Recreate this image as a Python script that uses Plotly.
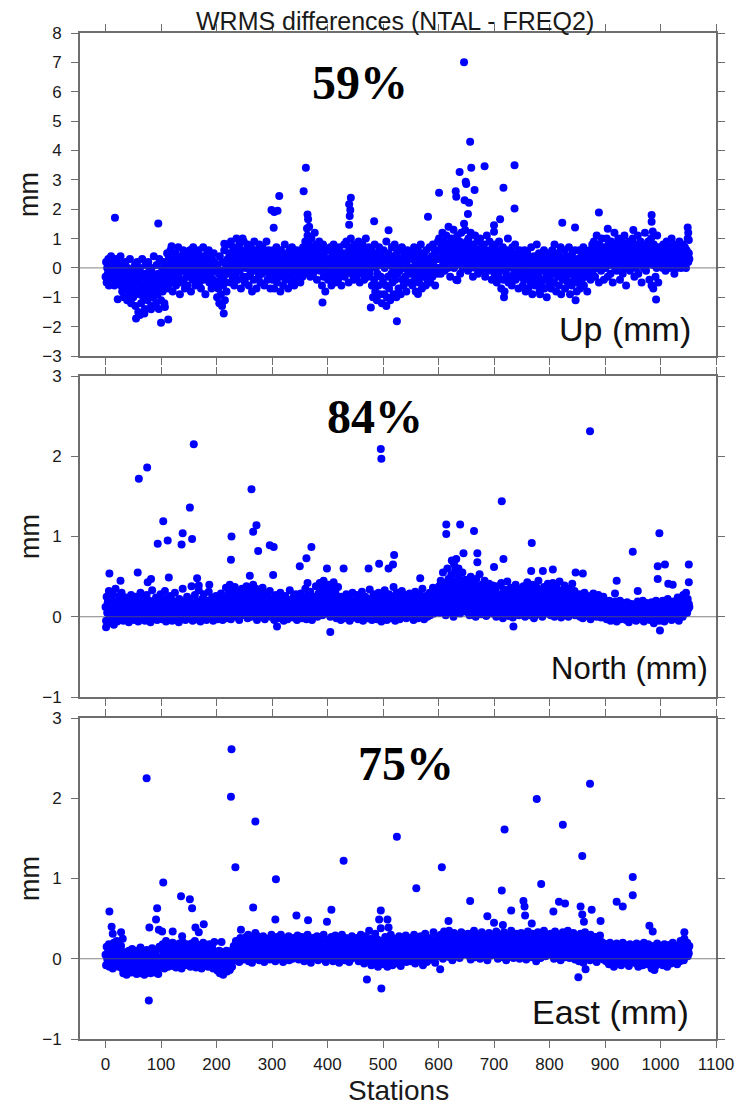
import plotly.graph_objects as go

# ---------------- data ----------------
station_ticks = list(range(0, 1200, 100))
y_ticks_up = list(range(-3, 9))
y_ticks_ne = list(range(-1, 4))

# Up component: one value per station (0..1052), dense cloud
up_band = [
    -0.3, 0.2, -0.5, 0.0, -0.2, 0.3, -0.6, -0.1, 0.1, -0.4, 0.4, -0.2, -0.5, 0.0, 0.2, -0.3, -0.6, 0.1, -0.1, 0.3, -0.4, -0.2, 0.0, -0.5, 0.2, -0.1, -0.3, 0.4, -0.6, 0.0, -0.8, -0.2, 0.1, -1.0, -0.5, -0.3, 0.2, -0.7, -0.4, -1.1, 0.0, -0.6, -0.2, -0.9, 0.3, -0.5, -1.2, -0.1, -0.7, -0.3,
    -1.0, -0.2, -0.6, 0.1, -1.3, -0.4, -0.8, 0.2, -0.1, -1.5, -0.5, -0.9, 0.0, -0.3, -1.2, -0.7, 0.3, -0.4, -1.0, -0.2, -0.6, -1.4, 0.1, -0.8, -0.3, -0.5, -1.1, 0.2, -0.7, -0.1, -0.9, -0.4, -1.3, 0.0, -0.6, -0.2, -1.0, 0.4, -0.5, -0.8, -0.3, -1.2, 0.1, -0.6, -0.9, -0.2, -1.4, 0.3, -0.4, -0.7,
    -1.1, -0.3, 0.0, -0.8, -0.5, 0.2, -1.2, -0.2, -0.6, 0.1, -0.4, 0.5, -0.1, -0.7, 0.3, 0.0, -0.3, 0.6, -0.5, 0.2, -0.2, -0.8, 0.4, 0.1, -0.4, 0.0, 0.5, -0.6, -0.1, 0.3, -0.3, 0.7, -0.2, 0.1, -0.9, 0.4, 0.0, -0.5, 0.2, -0.1, 0.6, -0.4, 0.3, -0.7, 0.0, 0.5, -0.2, 0.1, -0.6, 0.4,
    -0.3, 0.2, 0.6, -0.1, -0.8, 0.3, 0.0, -0.4, 0.7, 0.1, -0.2, 0.4, -0.6, 0.0, 0.5, -0.3, 0.2, -0.1, 0.6, -0.5, 0.3, 0.0, -0.7, 0.4, -0.2, 0.1, 0.7, -0.4, 0.0, 0.3, -0.9, 0.2, -0.1, 0.5, -0.3, 0.1, 0.6, -0.5, 0.0, 0.4, -0.2, -0.7, 0.3, 0.1, -0.4, 0.5, -0.1, 0.2, -0.6, 0.0,
    -0.5, -1.0, 0.1, -0.7, -0.2, -1.2, 0.4, -0.4, -0.9, -0.1, -1.3, 0.2, -0.6, -0.3, 0.6, -1.1, -0.5, 0.0, -0.8, -0.2, 0.3, 0.8, -0.1, 0.5, 0.2, -0.5, 0.9, 0.0, 0.4, -0.3, 0.7, 0.1, -0.6, 0.6, 0.3, -0.2, 1.0, 0.2, -0.4, 0.5, 0.0, 0.8, -0.1, 0.3, -0.7, 0.6, 0.1, 0.4, -0.3, 0.9,
    0.2, -0.5, 0.6, 0.0, 0.4, -0.3, 0.8, 0.1, -0.6, 0.5, 0.3, -0.2, 0.7, 0.0, -0.8, 0.4, 0.2, -0.4, 0.9, 0.1, -0.1, 0.6, -0.7, 0.3, 0.0, 0.5, -0.3, 0.8, 0.2, -0.5, 0.4, 0.1, -0.2, 0.7, 0.0, 0.3, -0.6, 0.5, 0.2, -0.1, 0.9, 0.4, -0.4, 0.1, 0.6, -0.2, 0.3, -0.7, 0.0, 0.5,
    0.2, -0.4, 0.6, 0.0, -0.7, 0.4, 0.1, -0.2, 0.7, -0.5, 0.3, 0.0, 0.5, -0.3, 0.2, -0.8, 0.6, 0.1, -0.1, 0.4, -0.6, 0.3, 0.0, 0.8, -0.4, 0.2, -0.2, 0.5, 0.1, -0.7, 0.4, 0.0, 0.6, -0.3, 0.2, -0.5, 0.7, 0.1, -0.1, 0.3, -0.6, 0.5, 0.0, 0.2, -0.4, 0.6, -0.2, 0.1, 0.4, -0.1,
    0.3, -0.5, 0.5, 0.0, 0.2, -0.3, 0.7, 0.1, -0.2, 0.4, 0.9, 0.2, 0.6, -0.1, 1.1, 0.3, 0.0, 0.8, 0.4, -0.3, 0.6, 1.0, 0.1, 0.5, -0.2, 0.7, 0.3, 1.2, 0.0, 0.4, 0.8, -0.4, 0.2, 0.6, 0.1, 0.9, -0.1, 0.5, 0.3, 0.7, -0.6, 0.2, 0.8, -0.3, 0.4, 0.0, -0.8, 0.6, 0.1, -0.2,
    0.3, -0.4, 0.6, 0.0, -0.2, 0.7, 0.1, -0.6, 0.4, 0.2, -0.3, 0.8, 0.0, 0.5, -0.5, 0.2, -0.1, 0.6, 0.3, -0.4, 0.1, 0.7, -0.2, 0.4, 0.0, -0.6, 0.5, 0.2, -0.1, 0.3, 0.8, -0.3, 0.5, 0.1, 0.9, -0.1, 0.4, 0.2, -0.5, 0.7, 0.0, 0.3, 1.0, -0.2, 0.6, 0.1, 0.4, -0.4, 0.8, 0.2,
    0.0, 0.5, -0.3, 0.7, 0.2, -0.1, 0.9, 0.3, -0.5, 0.6, 0.1, 0.4, -0.2, 0.8, 0.0, 0.3, -0.4, 0.6, 0.2, 1.0, -0.1, 0.5, 0.1, -0.3, 0.7, 0.2, -0.2, 0.4, 0.0, 0.6, -0.6, 0.3, -1.0, 0.1, -0.4, 0.8, -0.8, 0.0, 0.5, -1.1, -0.2, 0.3, -0.6, 0.7, -0.9, 0.1, -0.3, 0.4, -1.2, 0.2,
    -0.5, 0.6, -0.9, 0.0, 0.3, -0.6, 0.9, -1.0, 0.2, -0.3, 0.5, -0.7, 0.1, -1.1, 0.4, -0.2, 0.7, -0.5, 0.0, -0.9, 0.3, 0.8, -0.4, 0.1, -1.0, 0.5, -0.2, 0.2, -0.7, 0.6, -0.1, 0.3, -0.9, 0.0, 0.7, -0.4, 0.2, -0.6, 0.4, 0.0, -0.3, 0.5, -0.8, 0.1, 0.6, -0.2, 0.3, -0.5, 0.0, 0.4,
    -0.2, 0.5, 0.0, -0.6, 0.3, -0.1, 0.7, -0.4, 0.2, -0.8, 0.4, 0.0, -0.3, 0.6, 0.1, -0.5, 0.3, -0.2, 0.8, 0.0, -0.7, 0.4, 0.1, -0.3, 0.5, -0.1, 0.2, -0.6, 0.6, 0.0, -0.4, 0.3, 0.1, -0.2, 0.7, -0.5, 0.2, 0.0, 0.4, -0.3, 0.8, 0.1, -0.1, 0.5, -0.6, 0.3, 0.0, 0.6, -0.2, 0.9,
    0.3, 1.0, 0.0, 0.6, -0.2, 0.8, 0.4, 1.2, 0.1, 0.5, 0.9, -0.1, 0.7, 0.3, 1.1, 0.2, 0.6, 0.0, 1.4, 0.4, 0.8, -0.3, 0.5, 1.0, 0.2, 0.7, 0.3, 1.3, 0.0, 0.6, 0.9, 0.1, -0.4, 0.5, 1.1, 0.3, 0.7, 0.2, 0.9, -0.2, 0.4, 1.2, 0.6, 0.0, 0.8, 0.3, 1.5, 0.1, 0.5, 0.7,
    0.2, 0.9, 0.4, -0.1, 1.0, 0.3, 0.6, 0.0, 1.2, 0.5, 0.1, 0.8, -0.3, 0.4, 0.7, 0.2, 1.1, 0.0, 0.5, 0.3, 0.9, -0.2, 0.6, 0.1, 0.4, 1.0, 0.2, -0.1, 0.7, 0.3, 0.5, 0.0, 0.8, 0.4, -0.3, 0.6, 0.2, 1.1, 0.1, 0.5, -0.1, 0.3, 0.9, 0.0, 0.6, 0.2, -0.4, 0.7, 0.3, 0.1,
    0.4, -0.2, 0.8, 0.0, 0.3, -0.5, 0.6, 0.1, -0.3, 0.9, 0.2, -0.1, 0.5, -0.7, 0.3, 0.0, 0.7, -0.4, 0.2, -0.8, 0.4, 0.1, -0.2, 0.6, 0.0, 1.0, -0.5, 0.3, 0.1, -0.3, 0.5, 0.2, -0.6, 0.7, 0.0, 0.4, -0.2, 0.1, 0.8, -0.4, 0.3, -0.1, 0.5, 0.0, -0.7, 0.2, 0.6, -0.3, 0.1, 0.4,
    -0.2, 0.3, -0.6, 0.1, -0.4, 0.6, -0.1, -0.8, 0.2, -0.3, 0.5, 0.0, -0.7, 0.3, -0.2, 0.1, -0.5, 0.7, -0.1, -0.9, 0.2, -0.4, 0.4, 0.0, -0.6, 0.3, -0.2, 0.8, -0.5, 0.1, -0.3, 0.5, -0.8, 0.0, 0.2, -0.6, 0.4, -0.1, 0.1, -0.4, 0.6, -0.7, 0.0, 0.3, -0.3, -1.0, 0.2, -0.2, 0.5, -0.5,
    0.1, -0.4, 0.4, -0.7, 0.0, 0.6, -0.2, 0.3, -0.5, 0.8, -0.1, 0.2, -0.8, 0.0, 0.5, -0.3, 0.1, -0.6, 0.4, -0.2, 0.7, -0.9, 0.0, 0.3, -0.4, 0.2, -0.1, 0.6, -0.7, 0.1, -0.3, 0.4, 0.0, -0.5, 0.2, 0.7, -0.2, -0.9, 0.3, 0.0, -0.6, 0.5, -0.1, 0.2, -0.4, 0.1, 0.6, -0.3, 0.0, -0.8,
    0.3, -0.5, 0.1, -0.2, 0.6, -0.7, 0.0, 0.4, -0.4, 0.2, -0.1, 0.7, -0.6, 0.1, 0.3, -0.3, 0.5, 0.0, -0.8, 0.2, 0.4, -0.2, 0.6, 0.1, -0.4, 0.3, 0.0, 0.8, -0.1, 0.5, 0.9, 0.2, -0.3, 0.6, 0.4, 1.1, 0.0, 0.7, 0.3, -0.5, 0.8, 0.2, 0.5, -0.1, 1.0, 0.4, 0.1, 0.6, -0.4, 0.3,
    0.7, 0.0, 0.5, 1.0, 0.2, -0.3, 0.8, 0.4, 0.1, 0.6, -0.2, 0.9, 0.3, 0.5, -0.5, 0.7, 0.2, 1.2, 0.0, 0.4, 0.8, -0.1, 0.6, 0.3, 1.0, 0.1, 0.5, -0.4, 0.7, 0.2, 0.9, 0.4, -0.2, 0.6, 0.0, 1.1, 0.3, 0.5, -0.6, 0.8, 0.2, 0.4, 0.0, 0.9, 0.6, -0.1, 0.3, 0.7, 0.1, 0.5,
    1.0, 0.2, 0.6, -0.3, 0.4, 0.8, 0.0, 0.5, 0.2, 1.1, -0.2, 0.7, 0.3, 0.1, 0.9, 0.4, -0.5, 0.6, 0.2, 0.8, 0.0, 0.5, 1.2, 0.3, -0.1, 0.7, 0.1, 0.4, 0.9, 0.2, -0.4, 0.6, 0.3, 1.0, -0.6, 0.5, 0.1, -0.7, 0.8, 0.2, 0.4, -0.3, 0.6, 0.0, 1.1, 0.3, -0.5, 0.7, 0.2, 0.5,
    0.3, 0.7, 0.1, 0.5, 0.0, 0.8, 0.2, 0.4, 0.6, -0.1, 0.3, 0.9, 0.1, 0.5, 0.2, 0.7, 0.0, 0.4, 0.6, 0.2, 1.0, 0.3, 0.1, 0.5, 0.8, -0.2, 0.4, 0.2, 0.6, 0.0, 0.3, 0.7, 0.1, 0.5, 0.9, 0.2, 0.4, 0.0, 0.6, 0.3, 0.8, 0.1, 0.5, 0.2, 0.7, 0.4, 0.0, 0.6, 0.3, 1.0, 0.2, 0.5, 0.3,
]
# Up component: isolated points (station, value)
up_out_x = [17, 95, 22, 55, 62, 70, 82, 100, 113, 107, 119, 213, 214, 247, 299, 304, 310, 313, 303,
            361, 357, 364, 365, 363, 367, 391, 442, 439, 441, 440, 439, 484, 510, 525, 478, 506, 534,
            646, 657, 638, 659, 649, 650, 665, 683, 737, 717, 737, 601, 631, 632, 647, 655, 653, 581,
            648, 711, 700, 700, 889, 984, 984, 986, 823, 846, 951, 905, 1049, 1050, 1051, 718, 783,
            847, 992, 563, 634]
up_out_y = [1.71, 1.51, -1.07, -1.72, -1.6, -1.55, -1.41, -1.87, -1.76, -1.33, 0.74, -1.55, 0.82, 1.0, 1.97, 1.9, 1.95, 2.45, 1.37,
            3.41, 2.61, 1.82, 1.66, 1.34, 1.4, -1.18, 2.39, 2.17, 1.97, 1.77, 1.47, 1.59, 1.28, -1.82, -1.35, -1.3, 0.68,
            7.0, 4.3, 3.27, 3.41, 2.93, 2.86, 2.65, 3.46, 3.5, 2.73, 2.02, 2.56, 2.61, 2.42, 2.3, 2.22, 1.84, 1.74,
            1.29, 1.66, 1.45, 1.23, 1.89, 1.8, 1.57, 1.24, 1.54, 1.38, 1.29, 1.33, 1.38, 1.2, 0.95, -1.0, -0.9,
            -1.1, -1.08, -0.89, -0.42]

# North component
north_band = [
    0.12, -0.05, 0.25, 0.05, 0.18, -0.08, 0.32, 0.08, 0.0, 0.15, 0.22, -0.03, 0.1, 0.28, 0.04, -0.1, 0.17, 0.06, 0.35, 0.0, 0.12, -0.06, 0.2, 0.09, 0.02, 0.26, -0.04, 0.14, 0.07, 0.3, 0.03, 0.11, -0.05, 0.19, 0.06, 0.0, 0.24, 0.08, -0.02, 0.13, 0.04, 0.21, -0.07, 0.1, 0.16, 0.01, 0.27, 0.05, -0.03, 0.12,
    0.07, 0.2, -0.04, 0.11, 0.03, 0.25, 0.0, 0.14, 0.06, -0.06, 0.18, 0.09, 0.02, 0.3, 0.05, -0.02, 0.13, 0.08, 0.22, 0.0, 0.1, -0.05, 0.16, 0.04, 0.27, 0.07, -0.03, 0.12, 0.01, 0.2, 0.09, -0.07, 0.15, 0.05, 0.33, 0.02, 0.11, -0.01, 0.19, 0.06, 0.0, 0.24, 0.08, -0.04, 0.14, 0.03, 0.17, 0.1, -0.02, 0.28,
    0.05, 0.12, -0.03, 0.2, 0.07, 0.0, 0.15, 0.32, 0.04, -0.06, 0.1, 0.23, 0.06, 0.01, 0.17, -0.02, 0.09, 0.26, 0.03, 0.13, -0.05, 0.2, 0.08, 0.0, 0.14, 0.3, 0.05, -0.03, 0.11, 0.18, 0.02, 0.07, -0.07, 0.22, 0.1, 0.04, 0.16, -0.01, 0.12, 0.35, 0.06, 0.0, 0.19, 0.09, -0.04, 0.14, 0.03, 0.25, 0.08, 0.01,
    0.13, -0.02, 0.21, 0.06, 0.1, 0.38, 0.04, -0.05, 0.16, 0.08, 0.0, 0.27, 0.11, 0.03, -0.03, 0.19, 0.07, 0.14, 0.33, 0.02, 0.09, -0.06, 0.17, 0.05, 0.22, 0.0, 0.12, 0.28, -0.02, 0.08, 0.15, 0.04, -0.04, 0.2, 0.1, 0.01, 0.31, 0.06, 0.13, -0.01, 0.18, 0.07, 0.24, 0.03, -0.05, 0.11, 0.16, 0.0, 0.09, 0.26,
    0.05, 0.14, -0.03, 0.21, 0.08, 0.0, 0.17, 0.1, 0.29, 0.02, 0.12, -0.04, 0.19, 0.06, 0.25, 0.03, 0.13, 0.36, 0.07, -0.02, 0.15, 0.28, 0.05, 0.2, 0.4, 0.1, -0.03, 0.18, 0.32, 0.08, 0.24, 0.02, 0.14, 0.37, 0.11, 0.0, 0.22, 0.16, 0.06, 0.3, 0.09, -0.04, 0.19, 0.27, 0.13, 0.04, 0.35, 0.17, 0.07, 0.23,
    0.1, 0.31, 0.02, 0.18, 0.38, 0.12, -0.02, 0.25, 0.08, 0.15, 0.33, 0.05, 0.2, 0.0, 0.28, 0.14, 0.4, 0.09, 0.22, 0.03, 0.17, 0.35, 0.11, -0.04, 0.26, 0.07, 0.19, 0.3, 0.04, 0.13, 0.24, 0.01, 0.16, 0.36, 0.1, 0.06, 0.21, -0.03, 0.14, 0.29, 0.08, 0.18, 0.02, 0.25, 0.12, 0.05, 0.32, 0.09, 0.0, 0.16,
    0.07, 0.22, 0.03, 0.13, -0.04, 0.18, 0.09, 0.27, 0.01, 0.11, 0.05, 0.2, -0.02, 0.15, 0.08, 0.3, 0.04, 0.12, 0.0, 0.24, 0.1, -0.05, 0.17, 0.06, 0.26, 0.02, 0.14, 0.08, -0.03, 0.21, 0.11, 0.04, 0.33, 0.07, 0.16, 0.0, 0.19, 0.09, -0.01, 0.25, 0.05, 0.13, 0.03, 0.28, 0.1, -0.04, 0.15, 0.06, 0.22, 0.01,
    0.12, 0.04, 0.29, 0.08, -0.02, 0.17, 0.1, 0.23, 0.02, 0.14, 0.35, 0.06, -0.03, 0.19, 0.09, 0.27, 0.0, 0.13, 0.05, 0.31, 0.11, 0.18, -0.04, 0.21, 0.07, 0.15, 0.25, 0.03, 0.12, 0.38, 0.08, 0.2, 0.0, 0.16, 0.29, 0.1, 0.42, 0.05, 0.23, 0.14, 0.34, 0.02, 0.19, 0.45, 0.11, 0.26, 0.07, 0.38, 0.16, 0.3,
    0.04, 0.22, 0.4, 0.12, 0.28, 0.0, 0.18, 0.35, 0.09, 0.24, 0.14, 0.43, 0.06, 0.2, 0.31, 0.1, -0.02, 0.26, 0.15, 0.37, 0.08, 0.03, 0.19, 0.11, -0.04, 0.25, 0.06, 0.14, 0.01, 0.21, 0.09, -0.02, 0.17, 0.05, 0.28, 0.12, 0.0, 0.15, 0.07, 0.23, -0.05, 0.1, 0.19, 0.03, 0.13, 0.3, 0.06, -0.01, 0.16, 0.08,
    0.2, 0.02, 0.12, 0.27, 0.05, -0.03, 0.17, 0.09, 0.23, 0.0, 0.14, 0.06, 0.31, 0.1, -0.05, 0.19, 0.04, 0.13, 0.25, 0.07, 0.0, 0.16, 0.11, -0.02, 0.22, 0.08, 0.34, 0.03, 0.15, 0.09, -0.04, 0.2, 0.12, 0.28, 0.05, 0.18, 0.01, 0.24, 0.1, -0.03, 0.14, 0.06, 0.3, 0.17, 0.02, 0.21, 0.08, -0.06, 0.13, 0.26,
    0.04, 0.15, 0.09, 0.33, 0.0, 0.18, 0.11, -0.04, 0.23, 0.06, 0.14, 0.28, 0.02, 0.19, 0.1, -0.02, 0.25, 0.07, 0.13, 0.37, 0.05, 0.21, -0.05, 0.16, 0.09, 0.3, 0.01, 0.12, 0.2, 0.06, -0.03, 0.24, 0.14, 0.08, 0.32, 0.03, 0.17, 0.0, 0.11, 0.27, 0.05, 0.19, -0.02, 0.13, 0.22, 0.07, 0.15, 0.02, 0.29, 0.1,
    0.0, 0.18, 0.06, 0.25, 0.12, -0.04, 0.2, 0.08, 0.31, 0.03, 0.15, 0.1, 0.23, -0.02, 0.13, 0.06, 0.28, 0.17, 0.01, 0.21, 0.09, 0.35, 0.04, 0.14, -0.03, 0.19, 0.11, 0.26, 0.05, 0.16, 0.0, 0.22, 0.12, 0.08, 0.3, 0.02, 0.18, 0.24, 0.07, 0.14, 0.36, 0.1, 0.04, 0.27, 0.15, 0.2, 0.06, 0.33, 0.12, 0.22,
    0.15, 0.38, 0.05, 0.28, 0.45, 0.12, 0.33, 0.2, 0.55, 0.08, 0.3, 0.42, 0.18, 0.02, 0.36, 0.25, 0.6, 0.1, 0.47, 0.22, 0.32, 0.06, 0.4, 0.52, 0.15, 0.27, 0.35, 0.0, 0.44, 0.2, 0.58, 0.11, 0.3, 0.38, 0.07, 0.24, 0.5, 0.16, 0.33, 0.04, 0.42, 0.26, 0.13, 0.55, 0.21, 0.36, 0.09, 0.29, 0.46, 0.18,
    0.32, 0.06, 0.25, 0.44, 0.14, 0.37, 0.02, 0.2, 0.5, 0.28, 0.1, 0.35, 0.17, 0.42, 0.05, 0.23, 0.31, 0.0, 0.47, 0.15, 0.26, 0.38, 0.08, 0.21, 0.53, 0.12, 0.3, 0.03, 0.4, 0.19, 0.27, 0.09, 0.34, 0.45, 0.13, 0.22, 0.01, 0.36, 0.18, 0.29, 0.07, 0.41, 0.24, 0.11, 0.33, 0.16, 0.04, 0.27, 0.39, 0.1,
    0.2, 0.05, 0.31, 0.12, 0.0, 0.24, 0.38, 0.08, 0.17, 0.28, 0.03, 0.21, 0.13, 0.42, 0.07, 0.26, -0.02, 0.18, 0.34, 0.1, 0.22, 0.04, 0.3, 0.15, 0.44, 0.09, 0.19, 0.01, 0.27, 0.12, 0.36, 0.06, 0.23, 0.16, -0.01, 0.32, 0.11, 0.25, 0.03, 0.4, 0.14, 0.2, 0.07, 0.29, 0.17, 0.02, 0.35, 0.1, 0.24, 0.13,
    0.05, 0.28, 0.16, 0.38, 0.09, 0.22, 0.0, 0.31, 0.13, 0.19, 0.43, 0.06, 0.25, 0.11, 0.34, 0.02, 0.18, 0.27, 0.08, 0.4, 0.14, 0.21, -0.02, 0.3, 0.12, 0.23, 0.05, 0.36, 0.17, 0.1, 0.45, 0.03, 0.26, 0.15, 0.32, 0.07, 0.2, 0.0, 0.29, 0.11, 0.37, 0.18, 0.04, 0.24, 0.13, 0.33, 0.08, 0.41, 0.16, 0.22,
    0.1, 0.34, 0.02, 0.19, 0.27, 0.06, 0.42, 0.14, 0.23, 0.0, 0.3, 0.12, 0.37, 0.08, 0.2, 0.04, 0.28, 0.16, 0.44, 0.1, 0.25, -0.01, 0.18, 0.33, 0.07, 0.22, 0.13, 0.39, 0.03, 0.26, 0.15, 0.31, 0.09, 0.2, 0.0, 0.35, 0.12, 0.24, 0.06, 0.29, 0.17, 0.41, 0.05, 0.21, 0.11, 0.32, 0.02, 0.18, 0.26, 0.08,
    0.15, 0.04, 0.22, 0.1, 0.28, 0.0, 0.17, 0.07, 0.25, 0.12, -0.02, 0.19, 0.09, 0.3, 0.03, 0.14, 0.21, 0.06, 0.11, 0.26, 0.01, 0.16, 0.08, 0.23, -0.03, 0.13, 0.05, 0.2, 0.1, 0.29, 0.02, 0.15, 0.07, 0.24, 0.12, 0.0, 0.18, 0.09, 0.27, 0.04, 0.14, 0.06, 0.21, -0.01, 0.11, 0.17, 0.03, 0.25, 0.08, 0.13,
    0.02, 0.14, 0.06, -0.03, 0.1, 0.18, 0.0, 0.08, 0.2, 0.04, -0.05, 0.12, 0.07, 0.16, 0.01, 0.09, -0.02, 0.13, 0.05, 0.19, 0.03, -0.06, 0.11, 0.06, 0.15, 0.0, 0.08, 0.2, -0.03, 0.1, 0.04, 0.14, 0.07, -0.01, 0.17, 0.02, 0.09, 0.12, -0.04, 0.06, 0.18, 0.03, 0.1, -0.07, 0.05, 0.13, 0.0, 0.08, 0.16, 0.04,
    0.11, -0.02, 0.07, 0.15, 0.03, 0.09, -0.05, 0.13, 0.06, 0.19, 0.0, 0.1, 0.04, 0.16, -0.03, 0.08, 0.12, 0.02, 0.2, 0.05, -0.06, 0.14, 0.07, 0.01, 0.11, 0.17, -0.02, 0.06, 0.09, 0.03, 0.15, -0.04, 0.1, 0.05, 0.18, 0.0, 0.08, 0.13, -0.08, 0.04, 0.11, 0.07, 0.2, -0.01, 0.06, 0.14, 0.02, 0.09, -0.05, 0.12,
    0.05, 0.15, -0.03, 0.09, 0.2, 0.02, 0.12, -0.06, 0.07, 0.17, 0.0, 0.1, 0.04, 0.22, -0.02, 0.08, 0.14, 0.01, 0.18, 0.06, -0.04, 0.11, 0.05, 0.19, 0.0, 0.13, 0.08, -0.01, 0.16, 0.03, 0.1, 0.24, 0.06, -0.05, 0.12, 0.07, 0.2, 0.02, 0.15, 0.09, 0.0, 0.27, 0.11, 0.04, 0.18, 0.08, 0.3, 0.13, 0.05, 0.22, 0.1, 0.16, 0.12,
]
north_out_x = [159, 60, 75, 496, 497, 263, 152, 104, 94, 112, 139, 137, 156, 227, 226, 266, 272, 275, 296, 303,
               350, 362, 371, 399, 429, 474, 493, 510, 520, 518, 7, 27, 58, 1, 405, 309,
               165, 114, 82, 76, 187, 168, 260, 302, 364,
               873, 714, 614, 614, 639, 664, 768, 950, 998, 645, 670, 670, 700, 717, 624, 628, 632, 636,
               567, 995, 1008, 1051, 995, 1014, 1022, 1051, 921, 918, 959, 847, 860, 806, 788, 767, 735, 999]
north_out_y = [2.15, 1.72, 1.86, 2.09, 1.97, 1.59, 1.36, 1.19, 0.91, 0.95, 1.04, 0.9, 0.97, 1.0, 0.71, 1.06, 1.14, 0.82, 0.89, 0.87,
               0.63, 0.73, 0.87, 0.6, 0.6, 0.6, 0.66, 0.6, 0.77, 0.65, 0.54, 0.45, 0.55, -0.13, -0.19, -0.12,
               0.48, 0.49, 0.47, 0.43, 0.4, 0.39, 0.51, 0.52, 0.42,
               2.31, 1.44, 1.15, 1.03, 1.15, 1.07, 0.92, 0.81, 1.04, 0.79, 0.79, 0.68, 0.62, 0.72, 0.7, 0.65, 0.72, 0.6,
               0.48, 0.63, 0.65, 0.65, 0.47, 0.41, 0.4, 0.43, 0.45, 0.29, 0.32, 0.55, 0.54, 0.59, 0.57, 0.57, -0.12, -0.17]

# East component
east_band = [
    0.05, -0.08, 0.15, 0.0, -0.04, 0.1, 0.18, -0.1, 0.03, 0.08, -0.06, 0.12, 0.01, -0.12, 0.07, 0.2, -0.02, 0.04, 0.11, -0.07, 0.0, 0.14, -0.05, 0.06, -0.1, 0.09, 0.02, -0.03, 0.16, -0.08, -0.12, 0.03, -0.18, -0.06, 0.08, -0.14, 0.0, -0.09, -0.2, 0.05, -0.03, -0.15, 0.1, -0.07, -0.11, 0.02, -0.17, -0.04, 0.12, -0.1,
    -0.02, -0.16, 0.06, -0.09, -0.12, 0.0, -0.19, 0.1, -0.05, -0.13, 0.03, -0.08, -0.18, 0.14, -0.01, -0.11, -0.06, 0.07, -0.15, -0.03, -0.2, 0.04, -0.09, -0.12, 0.11, -0.07, 0.0, -0.16, -0.04, 0.08, -0.1, -0.18, 0.02, -0.06, 0.13, -0.14, -0.02, -0.08, 0.05, -0.17, -0.11, 0.09, -0.04, -0.13, 0.01, -0.19, -0.07, 0.15, -0.1, -0.05,
    0.02, -0.08, 0.12, 0.18, -0.03, 0.06, -0.12, 0.1, 0.0, 0.22, -0.05, 0.04, 0.14, -0.1, 0.08, 0.01, 0.17, -0.06, 0.11, -0.02, 0.05, 0.2, -0.09, 0.03, 0.13, -0.04, 0.07, -0.11, 0.16, 0.0, 0.09, -0.07, 0.02, 0.19, -0.03, 0.12, 0.06, -0.12, 0.1, 0.21, -0.01, 0.04, 0.15, -0.08, 0.08, 0.0, 0.18, -0.05, 0.11, 0.03,
    -0.06, 0.14, 0.07, -0.1, 0.02, 0.19, 0.05, -0.03, 0.12, -0.08, 0.09, 0.22, 0.0, -0.11, 0.06, 0.15, -0.04, 0.1, 0.03, -0.07, 0.17, 0.01, 0.08, -0.12, 0.13, -0.02, 0.2, 0.05, -0.09, 0.11, 0.0, 0.16, -0.05, 0.07, 0.12, -0.1, 0.04, 0.18, -0.03, 0.09, 0.02, -0.08, 0.14, 0.06, -0.12, 0.1, 0.21, -0.01, 0.03, -0.06,
    -0.1, 0.05, -0.15, 0.0, -0.07, 0.1, -0.18, -0.03, 0.06, -0.12, -0.05, 0.08, -0.2, 0.02, -0.09, -0.14, 0.04, -0.06, 0.1, -0.16, -0.01, -0.11, 0.07, -0.04, -0.14, 0.03, -0.08, 0.09, -0.1, 0.0, 0.12, 0.16, 0.04, 0.15, -0.02, 0.22, 0.08, 0.17, 0.0, 0.2, 0.11, -0.04, 0.14, 0.26, 0.06, 0.19, 0.02, 0.1, 0.24, -0.01,
    0.13, 0.05, 0.2, 0.27, 0.0, 0.16, 0.09, 0.3, -0.03, 0.11, 0.22, 0.04, 0.15, 0.07, -0.05, 0.19, 0.12, 0.26, 0.02, 0.1, 0.17, 0.06, 0.29, 0.0, 0.14, 0.21, 0.08, -0.02, 0.18, 0.11, 0.24, 0.03, 0.13, 0.06, 0.28, 0.16, -0.04, 0.1, 0.2, 0.05, 0.15, 0.25, 0.01, 0.12, 0.08, 0.22, -0.01, 0.17, 0.09, 0.3,
    0.07, 0.18, 0.02, 0.24, 0.11, 0.14, -0.03, 0.2, 0.08, 0.27, 0.05, 0.12, 0.16, 0.0, 0.22, 0.1, 0.3, 0.04, 0.15, 0.09, -0.04, 0.19, 0.13, 0.25, 0.06, 0.11, 0.02, 0.21, 0.16, 0.08, 0.28, -0.02, 0.12, 0.18, 0.05, 0.23, 0.1, 0.0, 0.15, 0.26, 0.07, 0.13, 0.2, 0.03, 0.17, 0.09, 0.29, 0.11, -0.01, 0.14,
    0.21, 0.06, 0.16, 0.1, 0.27, 0.02, 0.13, 0.19, -0.03, 0.09, 0.24, 0.14, 0.05, 0.18, 0.3, 0.0, 0.12, 0.22, 0.08, 0.15, -0.05, 0.2, 0.11, 0.26, 0.04, 0.17, 0.1, 0.01, 0.23, 0.13, 0.07, 0.28, 0.16, -0.02, 0.12, 0.19, 0.05, 0.25, 0.09, 0.14, 0.0, 0.21, 0.11, 0.3, 0.06, 0.17, 0.13, -0.04, 0.2, 0.1,
    0.15, 0.03, 0.24, 0.11, 0.18, 0.0, 0.13, 0.27, 0.07, 0.2, -0.03, 0.12, 0.16, 0.05, 0.29, 0.1, 0.22, 0.01, 0.14, 0.08, 0.19, -0.05, 0.25, 0.11, 0.06, 0.17, 0.3, 0.02, 0.13, 0.21, 0.09, -0.02, 0.16, 0.26, 0.04, 0.12, 0.2, 0.07, 0.15, -0.04, 0.23, 0.1, 0.18, 0.0, 0.28, 0.13, 0.05, 0.19, 0.09, 0.14,
    0.02, 0.2, 0.11, 0.26, 0.06, 0.15, -0.03, 0.22, 0.09, 0.13, 0.3, 0.0, 0.17, 0.07, 0.24, 0.12, -0.06, 0.19, 0.04, 0.28, 0.1, 0.15, -0.02, 0.21, 0.08, 0.35, 0.03, 0.16, 0.11, -0.08, 0.25, 0.06, 0.14, 0.2, -0.04, 0.1, 0.31, 0.0, 0.18, 0.07, 0.24, -0.1, 0.13, 0.05, 0.22, 0.09, 0.38, -0.05, 0.15, 0.02,
    0.12, -0.07, 0.2, 0.05, 0.27, -0.02, 0.1, 0.16, -0.1, 0.08, 0.23, 0.01, 0.14, -0.05, 0.3, 0.06, 0.11, -0.08, 0.19, 0.03, 0.25, 0.09, -0.03, 0.15, 0.0, 0.21, 0.07, -0.06, 0.13, 0.28, 0.04, 0.1, -0.09, 0.18, 0.02, 0.24, 0.08, -0.01, 0.16, 0.12, 0.05, 0.29, -0.04, 0.09, 0.2, 0.0, 0.14, 0.06, 0.26, 0.1,
    -0.03, 0.17, 0.08, 0.22, 0.01, 0.13, 0.3, 0.05, -0.06, 0.19, 0.1, 0.25, 0.03, 0.15, -0.02, 0.21, 0.07, 0.12, 0.28, 0.0, 0.16, 0.09, -0.08, 0.23, 0.04, 0.14, 0.31, 0.06, 0.11, -0.04, 0.2, 0.08, 0.26, 0.02, 0.15, 0.1, -0.01, 0.24, 0.12, 0.05, 0.18, 0.33, 0.07, 0.14, -0.05, 0.22, 0.09, 0.17, 0.03, 0.27,
    0.11, 0.25, 0.05, 0.18, 0.3, 0.08, 0.15, 0.22, 0.0, 0.13, 0.34, 0.1, 0.2, 0.04, 0.27, 0.16, 0.07, 0.23, 0.12, 0.35, 0.02, 0.19, 0.09, 0.28, 0.14, -0.02, 0.21, 0.11, 0.32, 0.06, 0.17, 0.25, 0.03, 0.13, 0.29, 0.08, 0.2, 0.15, 0.01, 0.24, 0.1, 0.33, 0.16, 0.05, 0.22, 0.12, 0.27, 0.07, 0.18, 0.3,
    0.09, 0.2, 0.14, 0.31, 0.04, 0.17, 0.25, 0.1, -0.01, 0.22, 0.13, 0.28, 0.06, 0.18, 0.35, 0.11, 0.02, 0.24, 0.15, 0.08, 0.3, 0.19, 0.05, 0.26, 0.12, 0.0, 0.21, 0.16, 0.33, 0.07, 0.14, 0.23, 0.1, 0.29, 0.03, 0.18, 0.25, 0.12, -0.02, 0.2, 0.15, 0.32, 0.08, 0.17, 0.27, 0.04, 0.13, 0.22, 0.1, 0.3,
    0.16, 0.06, 0.24, 0.13, 0.34, 0.09, 0.19, 0.0, 0.27, 0.14, 0.21, 0.05, 0.3, 0.11, 0.18, 0.25, 0.02, 0.15, 0.33, 0.08, 0.2, 0.12, -0.02, 0.26, 0.17, 0.07, 0.29, 0.14, 0.22, 0.03, 0.19, 0.35, 0.1, 0.16, 0.24, 0.01, 0.13, 0.28, 0.09, 0.2, 0.15, 0.31, 0.05, 0.23, 0.11, 0.18, 0.0, 0.26, 0.14, 0.32,
    0.08, 0.21, 0.15, 0.3, 0.04, 0.18, 0.25, 0.11, -0.01, 0.22, 0.14, 0.34, 0.07, 0.19, 0.27, 0.12, 0.02, 0.24, 0.16, 0.31, 0.09, 0.2, 0.05, 0.28, 0.13, 0.17, -0.03, 0.23, 0.1, 0.33, 0.15, 0.06, 0.26, 0.19, 0.01, 0.21, 0.12, 0.29, 0.08, 0.16, 0.35, 0.11, 0.22, 0.03, 0.18, 0.27, 0.14, 0.07, 0.24, 0.1,
    0.2, 0.13, 0.31, 0.05, 0.17, 0.26, 0.09, 0.22, 0.0, 0.15, 0.34, 0.11, 0.19, 0.04, 0.28, 0.14, 0.23, 0.07, 0.3, 0.12, -0.02, 0.18, 0.25, 0.1, 0.33, 0.06, 0.16, 0.21, 0.02, 0.27, 0.13, 0.19, 0.08, 0.35, 0.15, 0.24, 0.01, 0.11, 0.29, 0.17, 0.05, 0.22, 0.14, 0.32, 0.09, 0.2, -0.01, 0.26, 0.12, 0.18,
    0.07, 0.24, 0.15, -0.03, 0.2, 0.1, 0.31, 0.04, 0.17, 0.26, 0.12, -0.05, 0.22, 0.08, 0.33, 0.14, 0.02, 0.19, 0.28, 0.1, 0.06, 0.23, 0.15, -0.02, 0.3, 0.11, 0.18, 0.04, 0.25, 0.13, 0.0, 0.2, 0.09, 0.27, 0.16, -0.04, 0.12, 0.22, 0.06, 0.18, 0.1, 0.29, 0.03, 0.15, 0.21, 0.08, 0.13, -0.01, 0.19, 0.11,
    0.04, 0.15, -0.03, 0.09, 0.18, 0.01, 0.12, -0.07, 0.06, 0.2, 0.0, 0.1, -0.04, 0.14, 0.05, 0.17, -0.1, 0.08, 0.02, 0.13, -0.02, 0.19, 0.07, -0.06, 0.11, 0.03, 0.16, 0.0, 0.09, -0.08, 0.14, 0.05, 0.2, -0.03, 0.1, 0.02, 0.17, -0.05, 0.07, 0.12, -0.01, 0.15, 0.04, -0.09, 0.1, 0.18, 0.01, 0.08, -0.04, 0.13,
    0.06, -0.02, 0.16, 0.09, 0.0, 0.12, -0.06, 0.19, 0.04, 0.1, -0.1, 0.14, 0.07, 0.01, 0.17, -0.04, 0.09, 0.13, -0.08, 0.05, 0.2, 0.02, 0.11, -0.03, 0.15, 0.06, -0.07, 0.1, 0.18, 0.0, 0.08, -0.05, 0.14, 0.03, -0.12, 0.11, 0.06, 0.16, -0.02, 0.09, 0.01, -0.09, 0.13, 0.05, 0.19, -0.01, 0.07, 0.12, -0.06, 0.04,
    0.1, -0.03, 0.15, 0.05, -0.08, 0.12, 0.02, 0.18, -0.05, 0.08, 0.0, 0.14, -0.1, 0.06, 0.11, -0.02, 0.17, 0.03, 0.09, -0.06, 0.13, 0.04, 0.2, -0.01, 0.07, 0.12, -0.04, 0.1, 0.02, 0.16, -0.07, 0.05, 0.14, 0.0, 0.09, -0.03, 0.22, 0.06, 0.13, 0.01, 0.18, 0.08, -0.02, 0.25, 0.11, 0.04, 0.15, 0.09, 0.2, 0.03, 0.12, 0.07, 0.16,
]
east_out_x = [227, 74, 226, 270, 234, 525, 429, 307, 104, 136, 152, 156, 93, 91, 79, 7, 11, 266, 306, 344,
              365, 399, 407, 244, 270, 496, 493, 508, 510, 162, 177, 78, 471, 497,
              13, 28, 31, 20, 96, 102, 121, 138, 168, 209,
              873, 777, 824, 719, 859, 606, 950, 950, 560, 714, 785, 657, 731, 753, 755, 756, 817, 828,
              856, 859, 862, 876, 921, 932, 807, 892, 980, 986, 1043, 618, 688, 700, 716, 768, 852, 603, 865, 989]
east_out_y = [2.61, 2.25, 2.02, 1.71, 1.14, 1.52, 1.22, 0.99, 0.95, 0.78, 0.74, 0.63, 0.63, 0.49, 0.39, 0.59, 0.4, 0.64, 0.49, 0.54,
              0.48, 0.46, 0.61, 0.36, 0.32, 0.6, 0.49, 0.49, 0.39, 0.39, 0.43, -0.52, -0.26, -0.37,
              0.31, 0.33, 0.25, 0.22, 0.36, 0.34, 0.34, 0.28, 0.33, 0.21,
              2.18, 1.99, 1.67, 1.61, 1.28, 1.14, 1.02, 0.79, 0.88, 0.85, 0.93, 0.72, 0.6, 0.72, 0.65, 0.54, 0.71, 0.69,
              0.65, 0.55, 0.46, 0.61, 0.71, 0.65, 0.59, 0.47, 0.41, 0.34, 0.33, 0.47, 0.53, 0.45, 0.42, 0.44, -0.23, -0.13, -0.13, -0.14]

panel_labels = ["Up (mm)", "North (mm)", "East (mm)"]
percent_labels = ["59%", "84%", "75%"]
title_text = "WRMS differences (NTAL - FREQ2)"

# ---------------- figure ----------------
W, H = 746, 1107
ML, MR, MT, MB = 80, 24, 33, 68
PW, PH = W - ML - MR, H - MT - MB


def py(p):  # pixel row -> paper y
    return (H - MB - p) / PH


def px(p):  # pixel column -> paper x
    return (p - ML) / PW


domains = [[py(356), 1.0], [py(697), py(376)], [0.0, py(718)]]
yranges = [[-3, 8], [-1, 3], [-1, 3]]
ytickvals = [y_ticks_up, y_ticks_ne, y_ticks_ne]
series = [(up_band, up_out_x, up_out_y),
          (north_band, north_out_x, north_out_y),
          (east_band, east_out_x, east_out_y)]

fig = go.Figure()
for i, (band, ox, oy) in enumerate(series):
    xs = list(range(len(band))) + ox
    ys = band + oy
    sfx = "" if i == 0 else str(i + 1)
    fig.add_trace(go.Scatter(
        x=xs, y=ys, mode="markers",
        marker=dict(size=8, color="#0000ff", line=dict(width=0)),
        xaxis="x" + sfx, yaxis="y" + sfx, showlegend=False, hoverinfo="skip"))

axis_line = "#6e6e6e"
tick_font = dict(family="Liberation Sans, Arial, sans-serif", size=17, color="#1a1a1a")
layout = dict(
    width=W, height=H,
    margin=dict(l=ML, r=MR, t=MT, b=MB),
    paper_bgcolor="white", plot_bgcolor="white",
    showlegend=False,
)
for i in range(3):
    sfx = "" if i == 0 else str(i + 1)
    layout["xaxis" + sfx] = dict(
        domain=[0, 1], anchor="y" + sfx, range=[-46, 1100],
        tickmode="array", tickvals=station_ticks,
        showticklabels=(i == 2), tickfont=tick_font, ticklabelstandoff=2,
        showline=True, linecolor=axis_line, linewidth=2, mirror="ticks",
        ticks="outside", ticklen=7, tickwidth=1, tickcolor=axis_line,
        showgrid=False, zeroline=False,
    )
    layout["yaxis" + sfx] = dict(
        domain=domains[i], anchor="x" + sfx, range=yranges[i],
        tickmode="array", tickvals=ytickvals[i],
        tickfont=tick_font, ticklabelstandoff=6,
        showline=True, linecolor=axis_line, linewidth=2, mirror="ticks",
        ticks="outside", ticklen=7, tickwidth=1, tickcolor=axis_line,
        showgrid=False, zeroline=False,
    )
fig.update_layout(**layout)

# zero reference lines
for i in range(3):
    sfx = "" if i == 0 else str(i + 1)
    fig.add_shape(type="line", xref="paper", yref="y" + sfx, x0=0, x1=1.004, y0=0, y1=0,
                  line=dict(color="rgba(90,90,90,0.75)", width=1), layer="above")

ann = []
# title
ann.append(dict(text=title_text, xref="paper", yref="paper", x=px(398), y=py(21),
                xanchor="center", yanchor="middle", showarrow=False,
                font=dict(family="Liberation Sans, Arial, sans-serif", size=25, color="#1a1a1a")))
# y-axis titles
for yc in [194.5, 536.5, 878.5]:
    ann.append(dict(text="mm", xref="paper", yref="paper", x=px(29), y=py(yc), textangle=-90,
                    xanchor="center", yanchor="middle", showarrow=False,
                    font=dict(family="Liberation Sans, Arial, sans-serif", size=27, color="#1a1a1a")))
# percentages
for txt, (cx, cy) in zip(percent_labels, [(363, 82), (378, 416), (409, 763)]):
    ann.append(dict(text="<b>%s</b>" % txt, xref="paper", yref="paper", x=px(cx), y=py(cy),
                    xanchor="center", yanchor="middle", showarrow=False,
                    font=dict(family="Liberation Serif, Times New Roman, serif", size=48, color="#000000")))
# component labels
for txt, (rx, cy), fs in zip(panel_labels, [(699, 329), (716, 668), (697, 1012)], [34, 31, 34]):
    ann.append(dict(text=txt, xref="paper", yref="paper", x=px(rx), y=py(cy),
                    xanchor="right", yanchor="middle", showarrow=False,
                    font=dict(family="Liberation Sans, Arial, sans-serif", size=fs, color="#111111")))
# x-axis title
ann.append(dict(text="Stations", xref="paper", yref="paper", x=px(401), y=py(1090),
                xanchor="center", yanchor="middle", showarrow=False,
                font=dict(family="Liberation Sans, Arial, sans-serif", size=28, color="#1a1a1a")))
fig.update_layout(annotations=ann)

fig.write_html("out.html")
